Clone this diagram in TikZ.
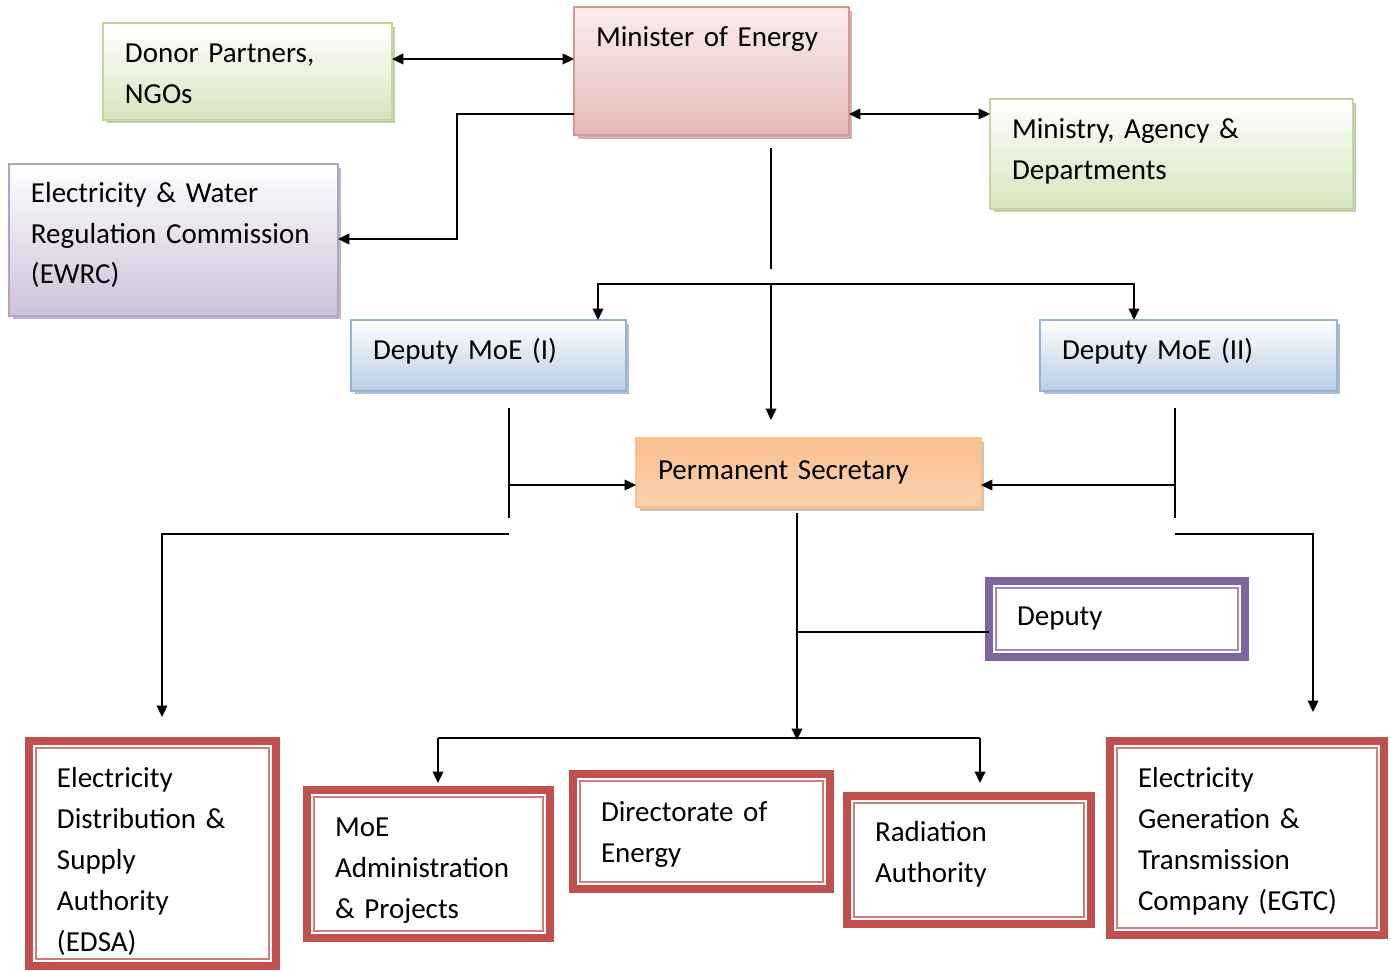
\documentclass[tikz,border=0pt]{standalone}
\usepackage{fontspec}
\setmainfont{Carlito}
\usepackage{xcolor}
\definecolor{GreenFill}{RGB}{215,228,189}
\definecolor{GreenLine}{RGB}{195,214,155}
\definecolor{PinkFill}{RGB}{230,185,184}
\definecolor{PinkTop}{RGB}{250,238,238}
\definecolor{PinkLine}{RGB}{217,150,148}
\definecolor{LilacFill}{RGB}{204,193,218}
\definecolor{LilacLine}{RGB}{179,162,199}
\definecolor{BlueFill}{RGB}{185,205,229}
\definecolor{BlueLine}{RGB}{149,179,215}
\definecolor{OrangeFill}{RGB}{250,192,144}
\definecolor{OrangeLight}{RGB}{253,233,217}
\definecolor{FrameRed}{RGB}{192,80,77}
\definecolor{FramePurple}{RGB}{128,100,162}
\usepackage{tikz}
\usetikzlibrary{positioning,arrows.meta,shadows}

\tikzset{
	orgbox/.style={rectangle, anchor=north west, align=left, outer sep=0pt,
		inner xsep=0.44cm, inner ysep=0.2cm, line width=1.2pt,
		font=\fontsize{16.5}{23.3}\selectfont},
	raise/.style={execute at end node={\par\vspace*{#1}}},
	greenbox/.style={orgbox, draw=GreenLine, top color=white, bottom color=GreenFill,
		drop shadow={shadow xshift=2pt, shadow yshift=-2pt, fill=GreenLine!70!black, opacity=0.5}},
	pinkbox/.style={orgbox, draw=PinkLine, top color=PinkTop, bottom color=PinkFill,
		drop shadow={shadow xshift=2pt, shadow yshift=-2pt, fill=PinkLine!70!black, opacity=0.5}},
	lilacbox/.style={orgbox, draw=LilacLine, top color=white, bottom color=LilacFill,
		drop shadow={shadow xshift=2pt, shadow yshift=-2pt, fill=LilacLine!70!black, opacity=0.5}},
	bluebox/.style={orgbox, draw=BlueLine, top color=white, bottom color=BlueFill,
		drop shadow={shadow xshift=2pt, shadow yshift=-2pt, fill=BlueLine!70!black, opacity=0.5}},
	orangebox/.style={orgbox, draw=OrangeFill, top color=OrangeFill, middle color=OrangeLight, bottom color=OrangeFill!60!OrangeLight,
		drop shadow={shadow xshift=2pt, shadow yshift=-2pt, fill=OrangeFill!70!black, opacity=0.5}},
	redframe/.style={orgbox, inner xsep=0.56cm, inner ysep=0.1cm, draw=FrameRed, line width=4.5pt, fill=white},
	purpleframe/.style={orgbox, inner xsep=0.56cm, draw=FramePurple, line width=4.5pt, fill=white},
	redinner/.style={draw=FrameRed!75, line width=0.9pt},
	purpleinner/.style={draw=FramePurple!75, line width=0.9pt},
	link/.style={line width=1.1pt},
	arrow/.style={link, -{Triangle[length=6.5pt,width=6pt]}},
	biarrow/.style={link, {Triangle[length=6.5pt,width=6pt]}-{Triangle[length=6.5pt,width=6pt]}}
}

\begin{document}
\begin{tikzpicture}[x=0.02cm, y=-0.02cm]
	\useasboundingbox (0,0) rectangle (1391,972);
	\node[greenbox, text width=4.9cm, minimum height=1.94cm, raise=-0.08cm] (donor) at (103,23) {Donor Partners,\\NGOs};
	\node[pinkbox, text width=4.62cm, inner ysep=0.39cm, text depth=1.39cm] (minister) at (574,7) {Minister of Energy};
	\node[greenbox, text width=6.38cm, minimum height=2.2cm, raise=0.12cm] (ministry) at (990,99) {Ministry, Agency \&\\Departments};
	\node[lilacbox, text width=5.7cm, minimum height=3.04cm, raise=0.2cm] (ewrc) at (9,164) {Electricity \& Water\\Regulation Commission\\(EWRC)};
	\node[bluebox, text width=4.62cm, minimum height=1.42cm, raise=0.16cm] (depI) at (351,320) {Deputy MoE (I)};
	\node[bluebox, text width=5.06cm, minimum height=1.42cm, raise=0.16cm] (depII) at (1040,320) {Deputy MoE (II)};
	\node[orangebox, text width=6.02cm, minimum height=1.38cm] (ps) at (636,438) {Permanent Secretary};
	\node[purpleframe, text width=4.0cm, minimum height=1.52cm] (deputy) at (989,581) {Deputy};
	\node[redframe, text width=3.82cm, minimum height=4.5cm, raise=-0.32cm] (edsa) at (29,741) {Electricity\\Distribution \&\\Supply\\Authority\\(EDSA)};
	\node[redframe, text width=3.74cm, minimum height=2.96cm, raise=-0.28cm] (admin) at (307,790) {MoE\\Administration\\\& Projects};
	\node[redframe, text width=4.02cm, minimum height=2.3cm, raise=-0.12cm] (dir) at (573,774) {Directorate of\\Energy};
	\node[redframe, text width=3.76cm, minimum height=2.56cm, raise=0.24cm] (rad) at (847,796) {Radiation\\Authority};
	\node[redframe, text width=4.36cm, minimum height=3.88cm, raise=-0.12cm] (egtc) at (1110,741) {Electricity\\Generation \&\\Transmission\\Company (EGTC)};
	\foreach \n in {edsa,admin,dir,rad,egtc}
		\draw[redinner] ([xshift=4pt,yshift=-4pt]\n.north west) rectangle ([xshift=-4pt,yshift=4pt]\n.south east);
	\draw[purpleinner] ([xshift=4pt,yshift=-4pt]deputy.north west) rectangle ([xshift=-4pt,yshift=4pt]deputy.south east);
	\coordinate (dn) at (0,59);
	\coordinate (mn) at (0,114);
	\coordinate (ew1) at (457,114);
	\coordinate (ew2) at (457,239);
	\coordinate (m1) at (771,148);
	\coordinate (m2) at (771,269);
	\coordinate (bar) at (771,284);
	\coordinate (dI) at (598,284);
	\coordinate (dII) at (1134,284);
	\coordinate (psin) at (771,420);
	\coordinate (a1) at (509,408);
	\coordinate (a2) at (509,518);
	\coordinate (a3) at (509,485);
	\coordinate (a4) at (509,534);
	\coordinate (a5) at (162,534);
	\coordinate (a6) at (162,717);
	\coordinate (b1) at (1175,408);
	\coordinate (b2) at (1175,518);
	\coordinate (b3) at (1175,485);
	\coordinate (b4) at (1175,534);
	\coordinate (b5) at (1313,534);
	\coordinate (b6) at (1313,712);
	\coordinate (c1) at (797,513);
	\coordinate (c2) at (797,740);
	\coordinate (c3) at (797,632);
	\coordinate (c4) at (438,738);
	\coordinate (c5) at (980,738);
	\coordinate (c6) at (438,783);
	\coordinate (c7) at (980,783);
	\draw[biarrow] (donor.east |- dn) -- (minister.west |- dn);
	\draw[biarrow] (minister.east |- mn) -- (ministry.west |- mn);
	\draw[arrow] (minister.west |- ew1) -- (ew1) -- (ew2) -- (ewrc.east |- ew2);
	\draw[link] (m1) -- (m2);
	\draw[arrow] (bar) -- (dI) -- (dI |- depI.north);
	\draw[arrow] (bar) -- (dII) -- (dII |- depII.north);
	\draw[arrow] (bar) -- (psin);
	\draw[link] (a1) -- (a2);
	\draw[arrow] (a3) -- (ps.west |- a3);
	\draw[arrow] (a4) -- (a5) -- (a6);
	\draw[link] (b1) -- (b2);
	\draw[arrow] (b3) -- (ps.east |- b3);
	\draw[arrow] (b4) -- (b5) -- (b6);
	\draw[arrow] (c1) -- (c2);
	\draw[link] (c3) -- (deputy.west |- c3);
	\draw[link] (c4) -- (c5);
	\draw[arrow] (c4) -- (c6);
	\draw[arrow] (c5) -- (c7);
\end{tikzpicture}
\end{document}
